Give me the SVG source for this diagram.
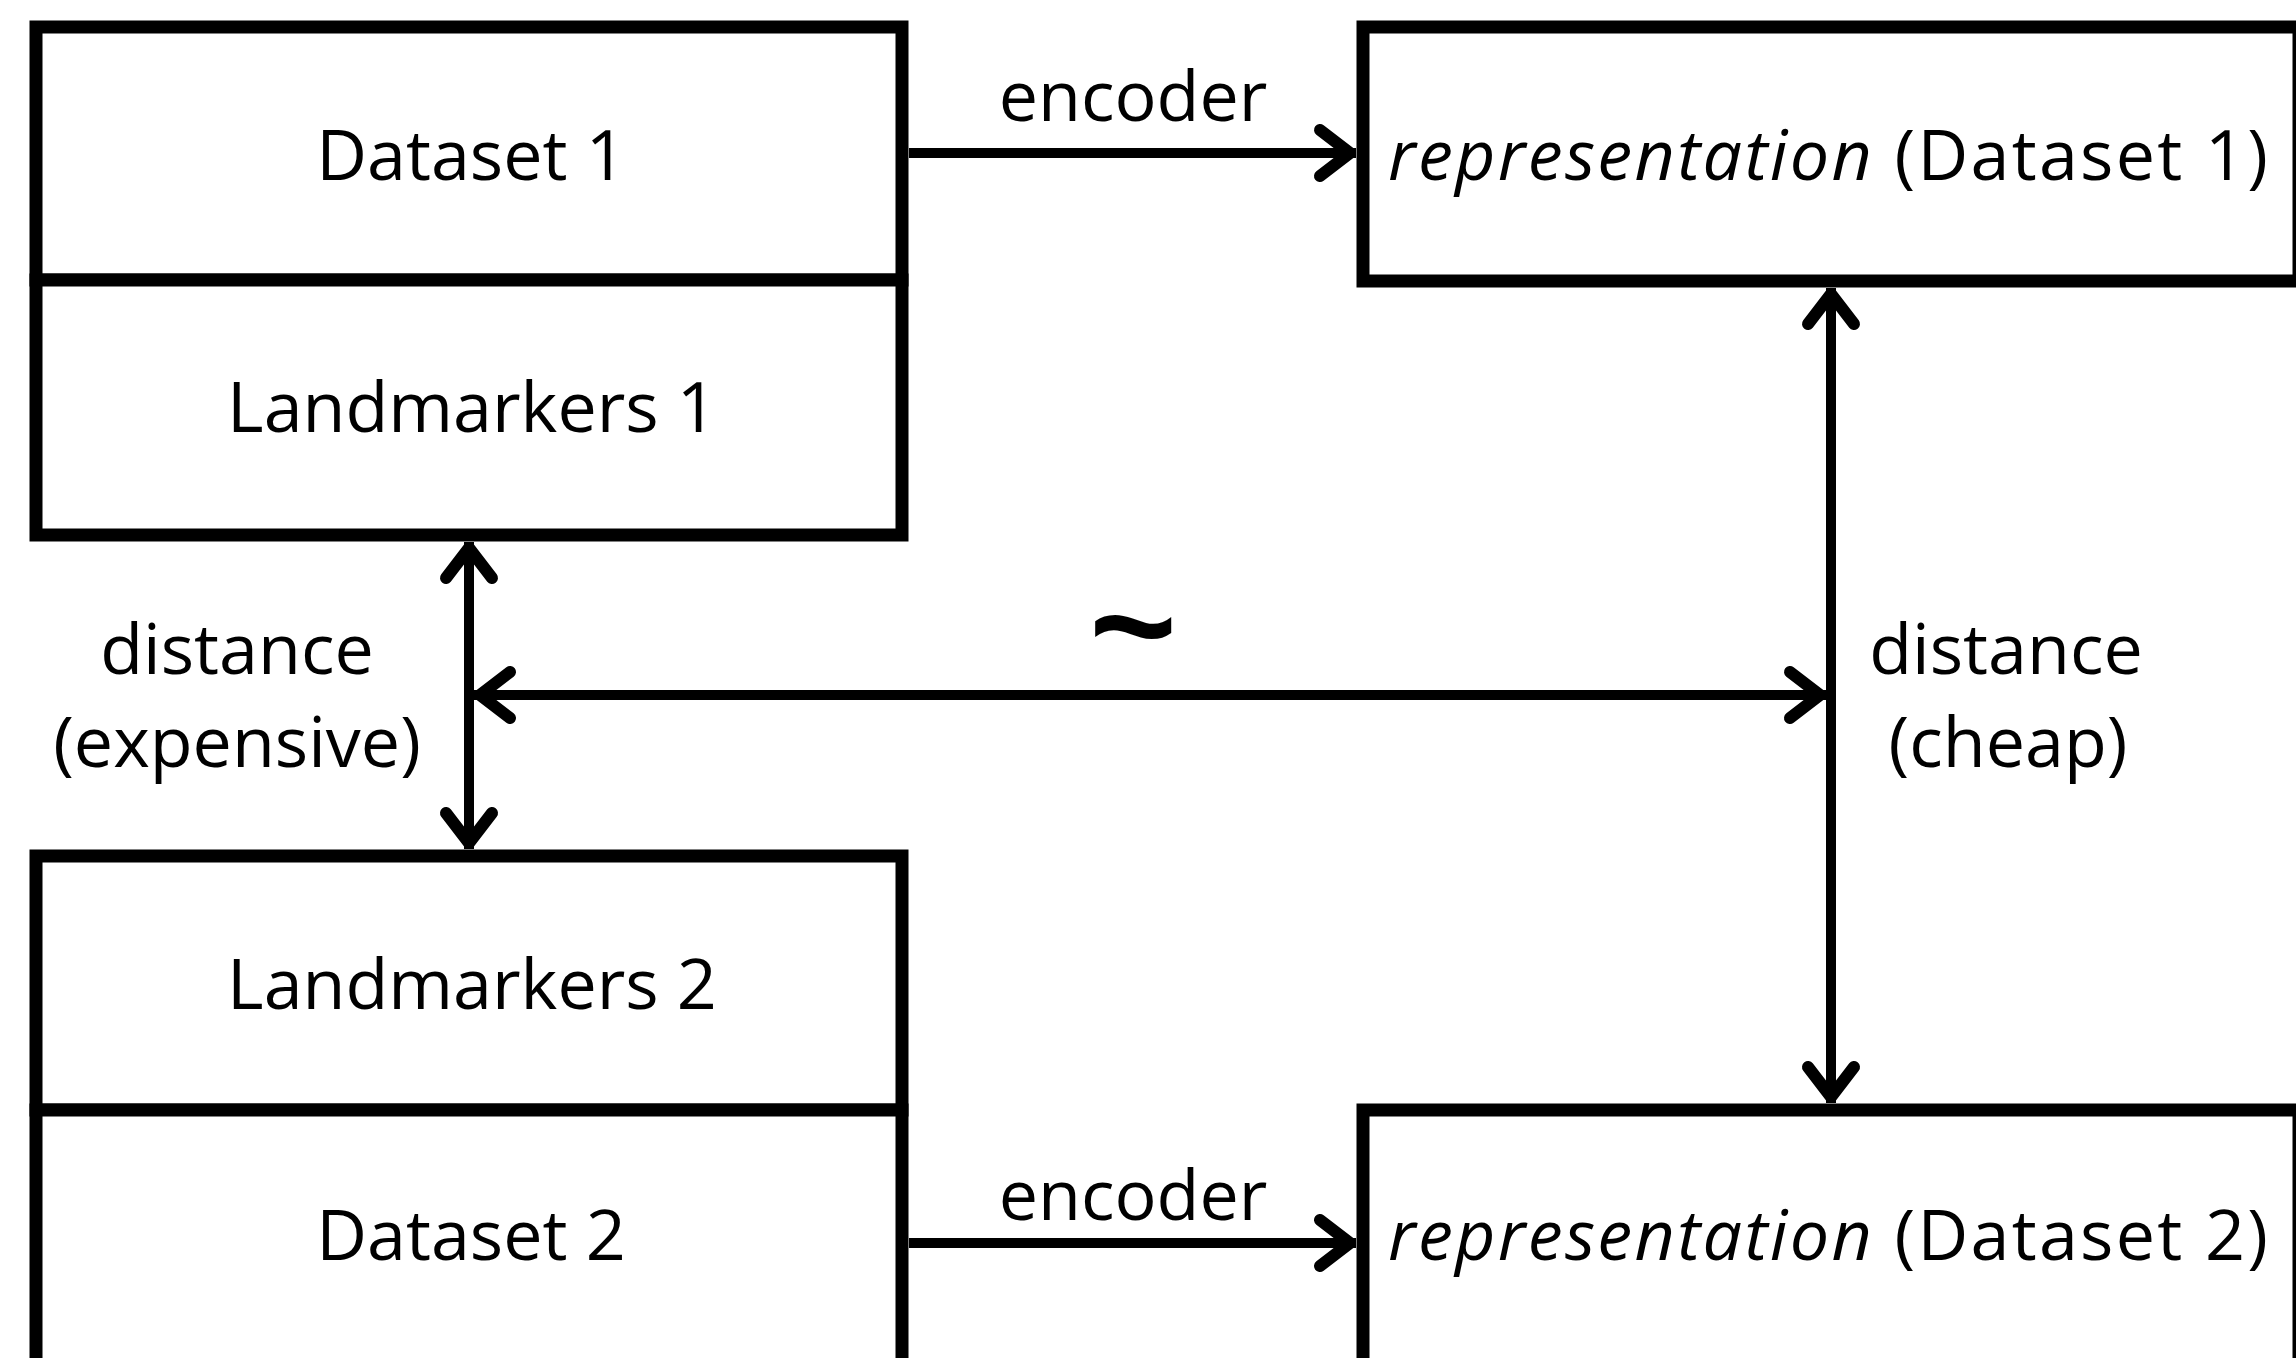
<svg xmlns="http://www.w3.org/2000/svg" width="2296" height="1358" viewBox="0 0 2296 1358">
  <defs>
    <style>
      .box { fill: #ffffff; stroke: #000000; stroke-width: 13; }
      .lbl { font-family: "Open Sans", "Liberation Sans", Arial, sans-serif; font-size: 70px; fill: #000000; }
      .mid { text-anchor: middle; }
      .it { font-style: italic; }
      .conn { stroke: #000000; stroke-width: 10; fill: none; }
      .tilde { font-family: "Liberation Sans", Arial, sans-serif; font-size: 150px; font-weight: bold; fill: #000000; text-anchor: middle; }
    </style>
    <marker id="chev" markerUnits="userSpaceOnUse" viewBox="-50 -35 60 70" refX="0" refY="0" markerWidth="60" markerHeight="70" orient="auto-start-reverse">
      <path d="M-36,-23 L-6,0 L-36,23" fill="none" stroke="#000000" stroke-width="12" stroke-linecap="round" stroke-linejoin="round"/>
    </marker>
  </defs>
  <rect width="2296" height="1358" fill="#ffffff"/>

  <g id="dataset1">
    <rect class="box" x="36" y="27" width="866" height="253"/>
    <text class="lbl mid" x="471" y="180">Dataset 1</text>
  </g>
  <g id="landmarkers1">
    <rect class="box" x="36" y="280" width="866" height="255"/>
    <text class="lbl mid" x="472" y="432">Landmarkers 1</text>
  </g>
  <g id="representation1">
    <rect class="box" x="1363" y="27" width="936" height="254"/>
    <text class="lbl" x="1388" y="180" textLength="880" lengthAdjust="spacing"><tspan class="it">representation</tspan> (Dataset 1)</text>
  </g>
  <g id="landmarkers2">
    <rect class="box" x="36" y="856" width="866" height="254"/>
    <text class="lbl mid" x="472" y="1009">Landmarkers 2</text>
  </g>
  <g id="dataset2">
    <rect class="box" x="36" y="1110" width="866" height="265"/>
    <text class="lbl mid" x="471" y="1260">Dataset 2</text>
  </g>
  <g id="representation2">
    <rect class="box" x="1363" y="1110" width="936" height="265"/>
    <text class="lbl" x="1388" y="1260" textLength="880" lengthAdjust="spacing"><tspan class="it">representation</tspan> (Dataset 2)</text>
  </g>

  <g id="connectors">
    <line class="conn" x1="909" y1="153" x2="1356" y2="153" marker-end="url(#chev)"/>
    <line class="conn" x1="909" y1="1243" x2="1356" y2="1243" marker-end="url(#chev)"/>
    <line class="conn" x1="469" y1="542" x2="469" y2="849" marker-start="url(#chev)" marker-end="url(#chev)"/>
    <line class="conn" x1="1831" y1="288" x2="1831" y2="1103" marker-start="url(#chev)" marker-end="url(#chev)"/>
    <line class="conn" x1="474" y1="695" x2="1826" y2="695" marker-start="url(#chev)" marker-end="url(#chev)"/>
    <text class="lbl mid" x="1133" y="121">encoder</text>
    <text class="lbl mid" x="1133" y="1220">encoder</text>
    <text class="lbl mid" x="237" y="674">distance</text>
    <text class="lbl mid" x="237" y="767">(expensive)</text>
    <text class="lbl mid" x="2006" y="674">distance</text>
    <text class="lbl mid" x="2008" y="767">(cheap)</text>
    <text class="tilde" x="1133" y="677">~</text>
  </g>
</svg>
